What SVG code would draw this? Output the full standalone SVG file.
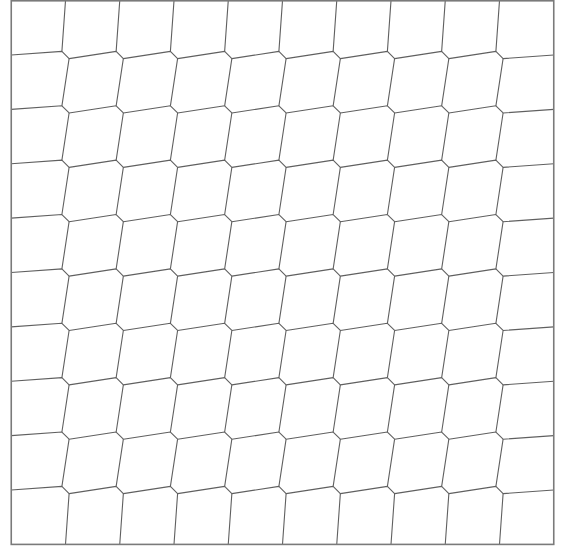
<svg xmlns="http://www.w3.org/2000/svg" xmlns:xlink="http://www.w3.org/1999/xlink" width="565" height="548" viewBox="0 0 565 548">
<style>
.ln{fill:none;stroke:#606060;stroke-width:1.1;stroke-linejoin:round}
.bd{fill:none;stroke:#7a7a7a;stroke-width:1.6}
</style>
<defs>
<path id="row" d="M11.25,0 L61.9,-3.6 L69.1,3.6 L116.15,-3.6 L123.35,3.6 L170.4,-3.6 L177.6,3.6 L224.65,-3.6 L231.85,3.6 L278.9,-3.6 L286.1,3.6 L333.15,-3.6 L340.35,3.6 L387.4,-3.6 L394.6,3.6 L441.65,-3.6 L448.85,3.6 L495.9,-3.6 L503.1,3.6 L553.75,0"/>
<path id="col" d="M0,0.6 L-3.6,51.4 M3.6,58.6 L-3.6,105.8 M3.6,113 L-3.6,160.2 M3.6,167.4 L-3.6,214.5 M3.6,221.7 L-3.6,268.9 M3.6,276.1 L-3.6,323.3 M3.6,330.5 L-3.6,377.7 M3.6,384.9 L-3.6,432 M3.6,439.2 L-3.6,486.4 M3.6,493.6 L0,544.4"/>
</defs>
<rect width="565" height="548" fill="#fff"/>
<g id="mesh" class="ln">
<use xlink:href="#row" transform="translate(0,55)"/>
<use xlink:href="#row" transform="translate(0,109.375)"/>
<use xlink:href="#row" transform="translate(0,163.75)"/>
<use xlink:href="#row" transform="translate(0,218.125)"/>
<use xlink:href="#row" transform="translate(0,272.5)"/>
<use xlink:href="#row" transform="translate(0,326.875)"/>
<use xlink:href="#row" transform="translate(0,381.25)"/>
<use xlink:href="#row" transform="translate(0,435.625)"/>
<use xlink:href="#row" transform="translate(0,490)"/>
<use xlink:href="#col" transform="translate(65.5,0)"/>
<use xlink:href="#col" transform="translate(119.75,0)"/>
<use xlink:href="#col" transform="translate(174,0)"/>
<use xlink:href="#col" transform="translate(228.25,0)"/>
<use xlink:href="#col" transform="translate(282.5,0)"/>
<use xlink:href="#col" transform="translate(336.75,0)"/>
<use xlink:href="#col" transform="translate(391,0)"/>
<use xlink:href="#col" transform="translate(445.25,0)"/>
<use xlink:href="#col" transform="translate(499.5,0)"/>
</g>
<rect id="border" class="bd" x="11.25" y="0.8" width="542.5" height="543.6"/>
</svg>
